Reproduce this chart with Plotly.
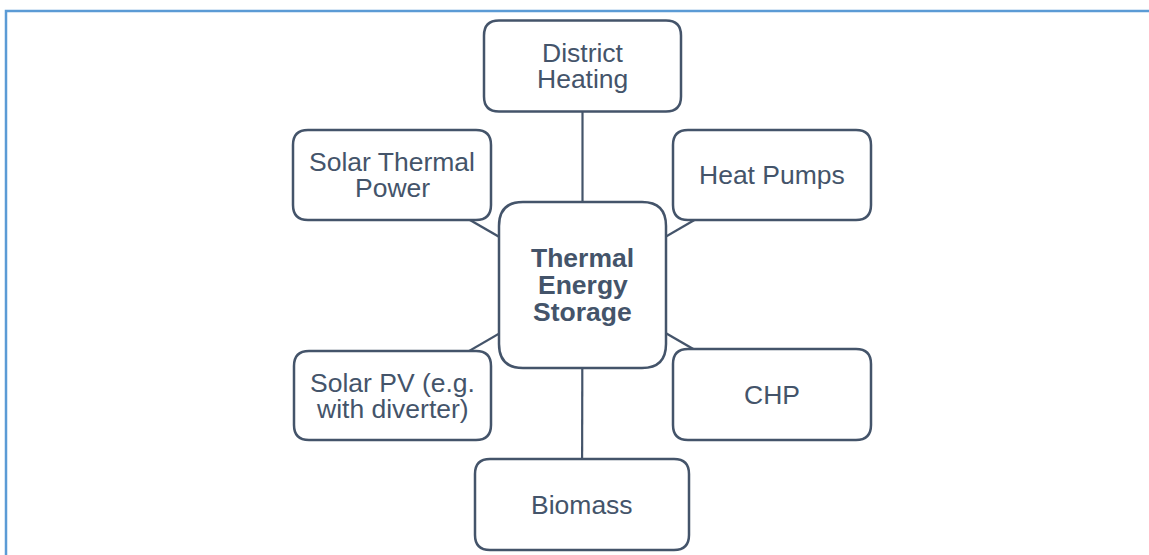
import plotly.graph_objects as go

# diagram content: hub and the technologies linked to it
hub_label = ["Thermal", "Energy", "Storage"]
spoke_labels = [
    ["District", "Heating"],
    ["Solar Thermal", "Power"],
    ["Heat Pumps"],
    ["Solar PV (e.g.", "with diverter)"],
    ["CHP"],
    ["Biomass"],
]

# layout (pixel units, y grows downward): centre x, centre y, width, height
hub_box = (582.5, 285, 167, 166)
spoke_boxes = [
    (582.5, 66, 197, 91),
    (392, 175, 198, 90),
    (772, 175, 198, 90),
    (392.5, 395.5, 197, 89),
    (772, 394.5, 198, 91),
    (582, 504.5, 214, 91),
]

W, H = 1149, 555
INK = "#44546a"
FONT = "Arial, Liberation Sans, sans-serif"


def rounded_rect(cx, cy, w, h, r):
    x0, x1 = cx - w / 2, cx + w / 2
    y0, y1 = cy - h / 2, cy + h / 2
    return (f"M {x0 + r},{y0} L {x1 - r},{y0} Q {x1},{y0} {x1},{y0 + r} "
            f"L {x1},{y1 - r} Q {x1},{y1} {x1 - r},{y1} "
            f"L {x0 + r},{y1} Q {x0},{y1} {x0},{y1 - r} "
            f"L {x0},{y0 + r} Q {x0},{y0} {x0 + r},{y0} Z")


fig = go.Figure()

# connectors from hub centre to every spoke centre (boxes cover the ends)
ex, ey = [], []
for (cx, cy, w, h) in spoke_boxes:
    ex += [hub_box[0], cx, None]
    ey += [hub_box[1], cy, None]
fig.add_trace(go.Scatter(x=ex, y=ey, mode="lines",
                         line=dict(color=INK, width=2.2),
                         hoverinfo="skip", showlegend=False))

shapes = [
    # light blue outer frame, clipped at right/bottom like the original
    dict(type="rect", xref="x", yref="y", x0=6, y0=11, x1=W + 20, y1=H + 20,
         line=dict(color="#5b9bd5", width=2.5), fillcolor="rgba(0,0,0,0)"),
]
annotations = []


def add_node(box, lines, radius, bold, spacing):
    cx, cy, w, h = box
    shapes.append(dict(type="path", xref="x", yref="y",
                       path=rounded_rect(cx, cy, w, h, radius),
                       line=dict(color=INK, width=2.5), fillcolor="white"))
    # one annotation per line: plotly's <br> spacing is looser than the original
    n = len(lines)
    for i, txt in enumerate(lines):
        y = cy + (i - (n - 1) / 2) * spacing
        annotations.append(dict(
            x=cx, y=y, xref="x", yref="y", showarrow=False,
            text=f"<b>{txt}</b>" if bold else txt,
            font=dict(family=FONT, size=26.5, color=INK),
            xanchor="center", yanchor="middle"))


for box, lines in zip(spoke_boxes, spoke_labels):
    add_node(box, lines, 15, False, 26)
add_node(hub_box, hub_label, 24, True, 27)

fig.update_layout(
    width=W, height=H,
    margin=dict(l=0, r=0, t=0, b=0),
    paper_bgcolor="white", plot_bgcolor="white",
    xaxis=dict(range=[0, W], visible=False, fixedrange=True),
    yaxis=dict(range=[H, 0], visible=False, fixedrange=True),
    shapes=shapes, annotations=annotations,
    showlegend=False,
)

# drop the browser's default body margin so the figure sits at the page corner
fig.write_html("out.html", config={"displayModeBar": False},
               post_script="document.body.style.margin='0';")
